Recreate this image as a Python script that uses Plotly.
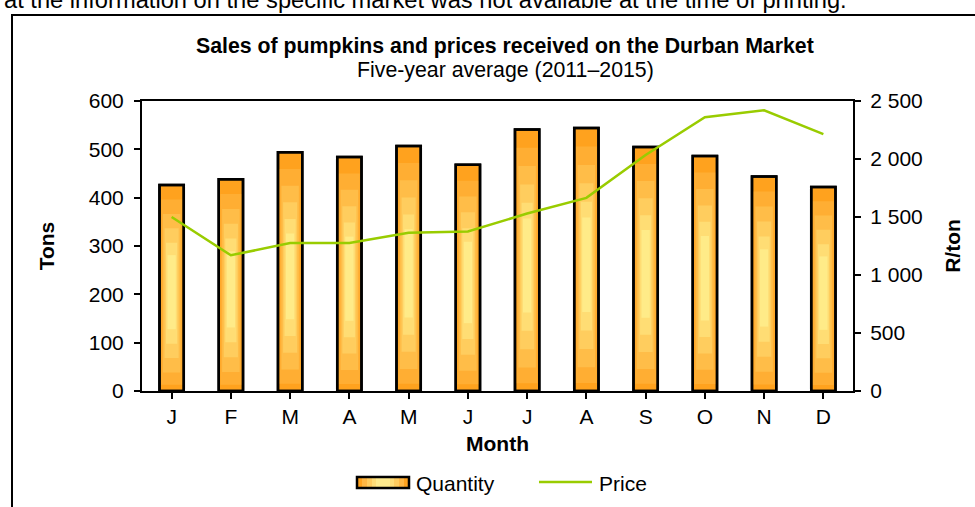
import plotly.graph_objects as go

months = ["J", "F", "M", "A", "M", "J", "J", "A", "S", "O", "N", "D"]
quantity = [426, 438, 494, 484, 507, 468, 541, 544, 505, 486, 444, 422]
price = [1500, 1170, 1275, 1275, 1365, 1375, 1530, 1665, 2035, 2360, 2420, 2215]

x_idx = list(range(len(months)))

# plot-area pixel geometry
L, R, T, B = 142, 853, 101, 391
W_, H_ = 975, 507
def px_x(px):
    return (px - L) / (R - L)
def px_y(py):
    return (B - py) / (B - T)

FONT = "Liberation Sans, Arial, sans-serif"
BAR_W = 0.41
LINE_GREEN = "#99CC00"

fig = go.Figure()

# main quantity bars
fig.add_trace(go.Bar(
    x=x_idx, y=quantity, name="Quantity", width=BAR_W,
    marker=dict(color="#FFA21E", line=dict(color="black", width=2.5)),
    yaxis="y", showlegend=False,
))

# gradient glow layers (style only, derived from the same values)
w_frac = [0.86, 0.72, 0.58, 0.46, 0.34]
lo_frac = [0.03, 0.09, 0.16, 0.23, 0.30]
hi_frac = [0.93, 0.86, 0.79, 0.72, 0.66]
colors = ["#FFAE33", "#FFBD48", "#FFCD5E", "#FFDD74", "#FFEB88"]
for wf, lo, hi, c in zip(w_frac, lo_frac, hi_frac, colors):
    fig.add_trace(go.Bar(
        x=x_idx, y=[q * (hi - lo) for q in quantity], base=[q * lo for q in quantity],
        width=BAR_W * wf, marker=dict(color=c, line=dict(width=0)),
        showlegend=False, hoverinfo="skip", yaxis="y",
    ))

# outline on top
fig.add_trace(go.Bar(
    x=x_idx, y=quantity, width=BAR_W,
    marker=dict(color="rgba(0,0,0,0)", line=dict(color="black", width=2.5)),
    showlegend=False, hoverinfo="skip", yaxis="y",
))

fig.add_trace(go.Scatter(
    x=x_idx, y=price, name="Price", mode="lines",
    line=dict(color=LINE_GREEN, width=2.5), yaxis="y2", showlegend=False,
))

# ---- frame and legend drawn as shapes + texts ----
shapes = [dict(
    type="rect", xref="paper", yref="paper",
    x0=px_x(12), y0=px_y(15), x1=px_x(1005), y1=px_y(540),
    line=dict(color="black", width=2), fillcolor="rgba(0,0,0,0)",
)]
lx0, lx1, ly0, ly1 = 357, 409, 477, 488
shapes.append(dict(type="rect", xref="paper", yref="paper",
                   x0=px_x(lx0), x1=px_x(lx1), y0=px_y(ly1), y1=px_y(ly0),
                   line=dict(width=0), fillcolor="#FFA21E"))
for inset, c in zip([5, 10, 15, 19], ["#FFB744", "#FFCB5E", "#FFDD78", "#FFEB8E"]):
    shapes.append(dict(type="rect", xref="paper", yref="paper",
                       x0=px_x(lx0 + inset), x1=px_x(lx1 - inset),
                       y0=px_y(ly1 - 1), y1=px_y(ly0 + 1),
                       line=dict(width=0), fillcolor=c))
shapes.append(dict(type="rect", xref="paper", yref="paper",
                   x0=px_x(lx0), x1=px_x(lx1), y0=px_y(ly1), y1=px_y(ly0),
                   line=dict(color="black", width=2.5), fillcolor="rgba(0,0,0,0)"))
shapes.append(dict(type="line", xref="paper", yref="paper",
                   x0=px_x(539), x1=px_x(592), y0=px_y(482), y1=px_y(482),
                   line=dict(color=LINE_GREEN, width=2.5)))

fig.update_layout(
    template="none",
    width=W_, height=H_,
    margin=dict(l=L, r=W_ - R, t=T, b=H_ - B, autoexpand=False),
    paper_bgcolor="white", plot_bgcolor="white",
    barmode="overlay",
    separators=". ",
    showlegend=False,
    font=dict(family=FONT, size=21, color="black"),
    xaxis=dict(
        tickmode="array", tickvals=x_idx, ticktext=months,
        range=[-0.5, len(months) - 0.5],
        showline=True, linecolor="black", linewidth=2, mirror=True,
        ticks="outside", ticklen=6, tickwidth=2, tickcolor="black",
        showgrid=False, zeroline=False, automargin=False,
        title=dict(text="<b>Month</b>", standoff=9, font=dict(size=21)),
    ),
    yaxis=dict(
        range=[0, 600], dtick=100, tick0=0,
        showline=True, linecolor="black", linewidth=2, mirror=True,
        ticks="outside", ticklen=6, tickwidth=2, tickcolor="black",
        showgrid=False, zeroline=False, automargin=False,
        ticklabelstandoff=6,
        title=dict(text="<b>Tons</b>", standoff=28, font=dict(size=21)),
    ),
    yaxis2=dict(
        range=[0, 2500], dtick=500, tick0=0, tickformat=",",
        overlaying="y", side="right",
        showline=True, linecolor="black", linewidth=2,
        ticks="outside", ticklen=6, tickwidth=2, tickcolor="black",
        showgrid=False, zeroline=False, automargin=False,
        ticklabelstandoff=5,
        title=dict(text="<b>R/ton</b>", standoff=24, font=dict(size=21)),
    ),
    shapes=shapes,
    annotations=[
        dict(text="<b>Sales of pumpkins and prices received on the Durban Market</b>",
             x=px_x(505), y=px_y(46), xref="paper", yref="paper",
             xanchor="center", yanchor="middle", showarrow=False, font=dict(size=21.3)),
        dict(text="Five-year average (2011\u20132015)",
             x=px_x(505), y=px_y(70), xref="paper", yref="paper",
             xanchor="center", yanchor="middle", showarrow=False, font=dict(size=21.3)),
        dict(text="at the information on the specific market was not available at the time of printing.",
             x=px_x(849), y=px_y(15), xref="paper", yref="paper",
             xanchor="right", yanchor="bottom", showarrow=False, font=dict(size=23.7)),
        dict(text="Quantity", x=px_x(414), y=px_y(483), xref="paper", yref="paper",
             xanchor="left", yanchor="middle", showarrow=False, font=dict(size=21)),
        dict(text="Price", x=px_x(597), y=px_y(483), xref="paper", yref="paper",
             xanchor="left", yanchor="middle", showarrow=False, font=dict(size=21)),
    ],
)

fig.write_html(
    "out.html",
    config={"displayModeBar": False},
    post_script="document.body.style.margin='0px';document.body.style.overflow='hidden';",
)
